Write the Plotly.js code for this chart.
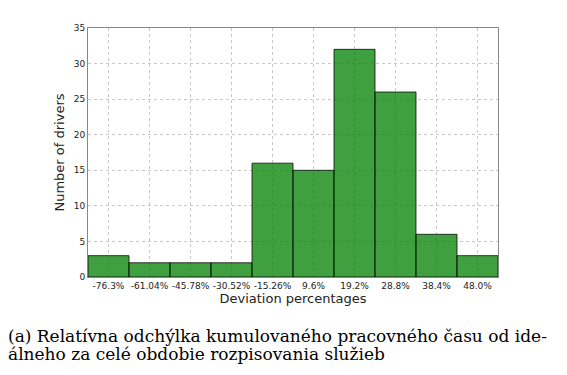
<!DOCTYPE html>
<html><head><meta charset="utf-8">
<script src="https://cdn.plot.ly/plotly-3.0.1.min.js"></script>
<style>body{margin:0;background:#fff}#c{width:567px;height:375px}</style>
</head><body><div id="c"></div>
<script>
const binLabels = ["-76.3%","-61.04%","-45.78%","-30.52%","-15.26%","9.6%","19.2%","28.8%","38.4%","48.0%"];
const counts = [3,2,2,2,16,15,32,26,6,3];
const captionLines = ["(a) Relatívna odchýlka kumulovaného pracovného času od ide-","álneho za celé obdobie rozpisovania služieb"];

const L=88,R=498,T=28,B=277;
const pw=R-L, ph=B-T;
const px=v=>(v-L)/pw, py=v=>(B-v)/ph;
const idx = binLabels.map((_,i)=>i);

Plotly.newPlot('c',[{
  type:'bar', x:idx, y:counts,
  marker:{color:'rgba(0,128,0,0.75)', line:{color:'rgba(0,0,0,0.75)', width:1}},
  hoverinfo:'skip'
}],{
  width:567,height:375,
  margin:{l:L,r:567-R,t:T,b:375-B},
  paper_bgcolor:'#fff',plot_bgcolor:'#fff',
  bargap:0, showlegend:false,
  font:{family:'DejaVu Sans',size:9,color:'#222'},
  xaxis:{range:[-0.5,9.5],tickvals:idx,ticktext:binLabels,showgrid:true,gridcolor:'#c8c8c8',griddash:'dot',gridwidth:1,
    showline:true,mirror:true,linecolor:'#888',linewidth:1,ticks:'',zeroline:false,
    tickfont:{size:9,color:'#222'},
    title:{text:'Deviation percentages',font:{size:13,color:'#222'},standoff:2}},
  yaxis:{range:[0,35],dtick:5,showgrid:true,gridcolor:'#c8c8c8',griddash:'dot',gridwidth:1,
    showline:true,mirror:true,linecolor:'#888',linewidth:1,ticks:'',zeroline:false,
    tickfont:{size:9,color:'#222'},
    title:{text:'Number of drivers',font:{size:13,color:'#222'},standoff:6}},
  annotations:[
    {xref:'paper',yref:'paper',x:px(6),y:py(336),xanchor:'left',yanchor:'middle',showarrow:false,
     text:captionLines[0],font:{family:'DejaVu Serif',size:17,color:'#000'}},
    {xref:'paper',yref:'paper',x:px(6),y:py(354),xanchor:'left',yanchor:'middle',showarrow:false,
     text:captionLines[1],font:{family:'DejaVu Serif',size:17,color:'#000'}}
  ]
},{staticPlot:true});
</script></body></html>
